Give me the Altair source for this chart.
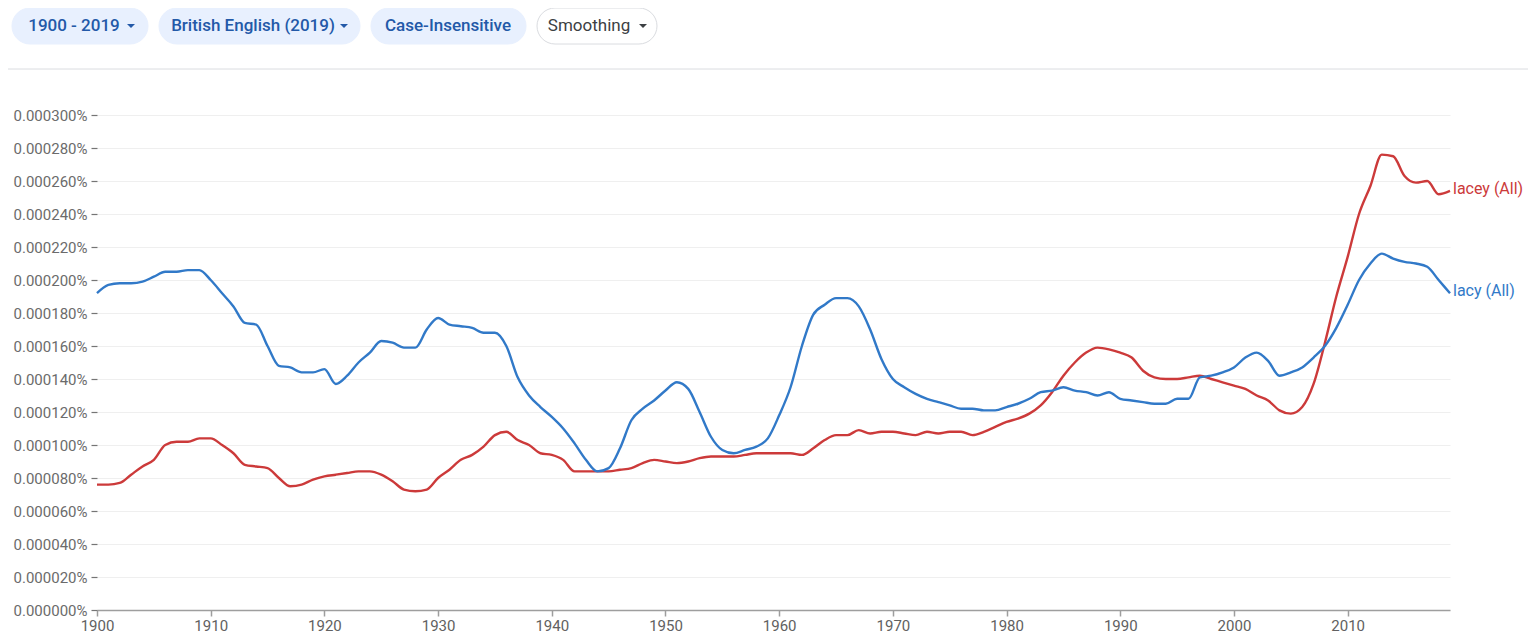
import altair as alt
import pandas as pd

# ---------------- data (values in units of 1e-6 %) ----------------
years = list(range(1900, 2020))

lacy = [
    192, 197, 198, 198, 199, 202, 205, 205, 206, 206,   # 1900-1909
    200, 192, 184, 174, 173, 160, 148, 147, 144, 144,   # 1910-1919
    146, 137, 142, 150, 156, 163, 162, 159, 159, 170,   # 1920-1929
    177, 173, 172, 171, 168, 168, 160, 141, 130, 123,   # 1930-1939
    117, 110, 101, 91, 84, 86, 98, 115, 122, 127,       # 1940-1949
    133, 138, 134, 120, 105, 97, 95, 97, 99, 104,       # 1950-1959
    118, 135, 160, 179, 185, 189, 189, 184, 170, 152,   # 1960-1969
    140, 135, 131, 128, 126, 124, 122, 122, 121, 121,   # 1970-1979
    123, 125, 128, 132, 133, 135, 133, 132, 130, 132,   # 1980-1989
    128, 127, 126, 125, 125, 128, 128, 141, 142, 144,   # 1990-1999
    147, 153, 156, 151, 142, 144, 147, 153, 160, 171,   # 2000-2009
    185, 200, 210, 216, 213, 211, 210, 208, 200, 192,   # 2010-2019
]

lacey = [
    76, 76, 77, 82, 87, 91, 100, 102, 102, 104,         # 1900-1909
    104, 100, 95, 88, 87, 86, 80, 75, 76, 79,           # 1910-1919
    81, 82, 83, 84, 84, 82, 78, 73, 72, 73,             # 1920-1929
    80, 85, 91, 94, 99, 106, 108, 103, 100, 95,         # 1930-1939
    94, 91, 84, 84, 84, 84, 85, 86, 89, 91,             # 1940-1949
    90, 89, 90, 92, 93, 93, 93, 94, 95, 95,             # 1950-1959
    95, 95, 94, 98, 103, 106, 106, 109, 107, 108,       # 1960-1969
    108, 107, 106, 108, 107, 108, 108, 106, 108, 111,   # 1970-1979
    114, 116, 119, 124, 132, 142, 150, 156, 159, 158,   # 1980-1989
    156, 153, 145, 141, 140, 140, 141, 142, 140, 138,   # 1990-1999
    136, 134, 130, 127, 121, 119, 123, 137, 162, 190,   # 2000-2009
    214, 240, 257, 276, 275, 263, 259, 260, 252, 254,   # 2010-2019
]

words = ["lacey (All)", "lacy (All)"]
line_colors = ["#cc3a3a", "#3179c8"]

y_ticks = [0.0, 0.00002, 0.00004, 0.00006, 0.00008, 0.0001, 0.00012, 0.00014,
           0.00016, 0.00018, 0.0002, 0.00022, 0.00024, 0.00026, 0.00028, 0.0003]
x_ticks = [1900, 1910, 1920, 1930, 1940, 1950, 1960, 1970, 1980, 1990, 2000, 2010]

rows = []
for yr, v in zip(years, lacey):
    rows.append({"year": yr, "value": v * 1e-6, "word": words[0]})
for yr, v in zip(years, lacy):
    rows.append({"year": yr, "value": v * 1e-6, "word": words[1]})
df = pd.DataFrame(rows)

FONT = "Roboto"
W, H = 1353, 495

color = alt.Color("word:N", scale=alt.Scale(domain=words, range=line_colors), legend=None)

x_axis = alt.Axis(values=x_ticks, format="d", title=None, grid=False,
                  domainColor="#9e9e9e", domainWidth=1.5, tickColor="#9e9e9e",
                  tickSize=6, tickWidth=1.5, labelColor="#616161", labelFontSize=15,
                  labelFont=FONT, labelPadding=2, labelFlush=False,
                  labelOverlap=False)
y_axis = alt.Axis(values=y_ticks, labelExpr="format(datum.value, '.6f') + '%'",
                  title=None, domain=False, grid=True, gridColor="#efefef",
                  gridWidth=1, tickColor="#757575", tickSize=6, tickWidth=1.2,
                  labelColor="#6b6b6b", labelFontSize=15, labelFont=FONT,
                  labelPadding=4, labelOverlap=False, labelFlush=False,
                  labelSeparation=0)

x_enc = alt.X("year:Q", scale=alt.Scale(domain=[1900, 2019], nice=False, zero=False),
              axis=x_axis)
y_enc = alt.Y("value:Q", scale=alt.Scale(domain=[0, 0.0003], nice=False), axis=y_axis)

lines = alt.Chart(df).mark_line(strokeWidth=2.4, interpolate="monotone").encode(
    x=x_enc, y=y_enc, color=color, detail="word:N"
)

end_labels = alt.Chart(df).transform_filter(
    alt.datum.year == 2019
).mark_text(align="left", baseline="middle", dx=3, dy=-2, fontSize=16, font=FONT).encode(
    x=x_enc, y=y_enc, color=color, text="word:N"
)

one = alt.Data(values=[{"k": 1}])


def pill(x0, x1, fill, stroke):
    return alt.Chart(one).mark_rect(
        cornerRadius=18, fill=fill, stroke=stroke, strokeWidth=1
    ).encode(x=alt.value(x0), x2=alt.value(x1), y=alt.value(-107), y2=alt.value(-71))


def label(xc, txt, col, weight):
    return alt.Chart(one).mark_text(
        align="center", baseline="middle", fontSize=17, font=FONT,
        fontWeight=weight, color=col
    ).encode(x=alt.value(xc), y=alt.value(-89), text=alt.value(txt))


def caret(xc, col):
    return alt.Chart(one).mark_point(
        shape="M -1 -0.5 L 1 -0.5 L 0 0.5 Z", filled=True, size=64,
        color=col, opacity=1
    ).encode(x=alt.value(xc), y=alt.value(-89))


PILL_BG = "#e8f0fe"
PILL_TX = "#2359a8"
GRAY_TX = "#3c4043"

header = [
    pill(-85, 51, PILL_BG, PILL_BG),
    label(-23, "1900 - 2019", PILL_TX, 500),
    caret(34, PILL_TX),
    pill(62, 263, PILL_BG, PILL_BG),
    label(156, "British English (2019)", PILL_TX, 500),
    caret(247, PILL_TX),
    pill(274, 429, PILL_BG, PILL_BG),
    label(351, "Case-Insensitive", PILL_TX, 500),
    pill(440, 560, "#ffffff", "#dadce0"),
    label(492, "Smoothing", GRAY_TX, 400),
    caret(546, GRAY_TX),
    alt.Chart(one).mark_rule(color="#dadce0", strokeWidth=1).encode(
        x=alt.value(-89), x2=alt.value(1431), y=alt.value(-46)
    ),
]

chart = alt.layer(lines, end_labels, *header).properties(
    width=W, height=H,
    padding={"left": 89, "top": 107, "right": 78, "bottom": 28},
    autosize=alt.AutoSizeParams(type="none"),
    background="#ffffff",
).configure_view(strokeWidth=0, stroke=None).configure_axis(labelOverlap=False)

chart.save("out.html", embed_options={"renderer": "svg", "actions": False})
